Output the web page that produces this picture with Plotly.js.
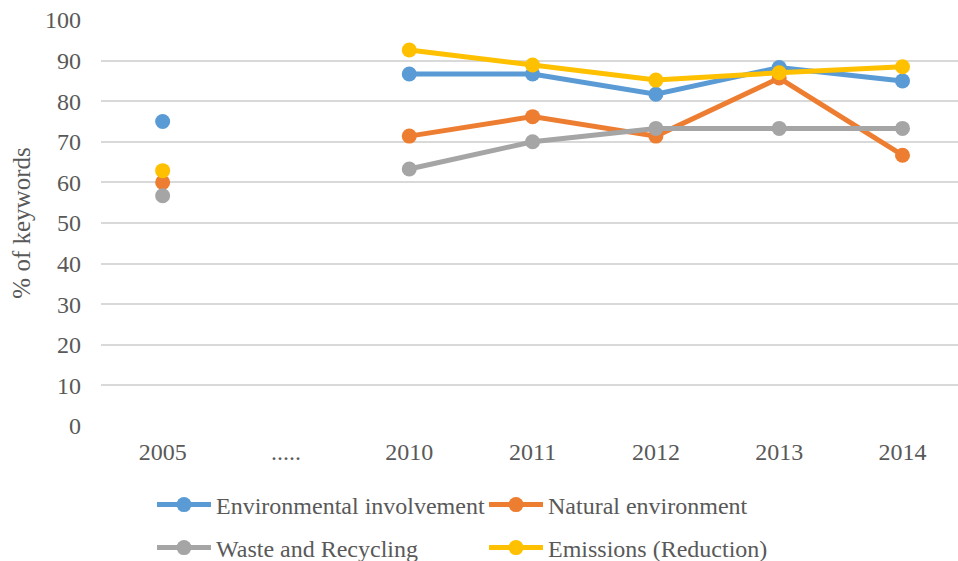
<!DOCTYPE html>
<html>
<head>
<meta charset="utf-8">
<script src="https://cdn.plot.ly/plotly-3.0.1.min.js"></script>
<style>html,body{margin:0;padding:0;background:#fff;}#chart{width:958px;height:561px;}</style>
</head>
<body>
<div id="chart"></div>
<script>
const categories = ['2005', '.....', '2010', '2011', '2012', '2013', '2014'];
const environmentalInvolvement = [75, null, 86.7, 86.7, 81.7, 88.3, 85];
const naturalEnvironment = [60, null, 71.4, 76.2, 71.4, 85.7, 66.7];
const wasteAndRecycling = [56.7, null, 63.3, 70, 73.3, 73.3, 73.3];
const emissionsReduction = [62.9, null, 92.6, 88.9, 85.2, 87, 88.5];
const seriesNames = ['Environmental involvement', 'Natural environment', 'Waste and Recycling', 'Emissions (Reduction)'];
const yTicks = [0, 10, 20, 30, 40, 50, 60, 70, 80, 90, 100];

const colors = ['#5b9bd5', '#ed7d31', '#a5a5a5', '#ffc000'];
const seriesData = [environmentalInvolvement, naturalEnvironment, wasteAndRecycling, emissionsReduction];
const legendIds = ['legend', 'legend', 'legend2', 'legend2'];
const font = 'Liberation Serif';

const traces = seriesData.map((vals, i) => ({
  type: 'scatter',
  mode: 'lines+markers',
  x: categories,
  y: vals,
  name: seriesNames[i],
  connectgaps: false,
  line: {color: colors[i], width: 5},
  marker: {color: colors[i], size: 15},
  legend: legendIds[i],
  cliponaxis: false
}));

const legendCommon = {
  orientation: 'h',
  xref: 'container', yref: 'container',
  x: 152 / 958, xanchor: 'left', yanchor: 'middle',
  font: {family: font, size: 24, color: '#595959'},
  entrywidth: 263, entrywidthmode: 'pixels',
  itemwidth: 54,
  bgcolor: 'rgba(0,0,0,0)',
  traceorder: 'normal'
};

const layout = {
  width: 958, height: 561,
  margin: {l: 101, r: 0, t: 20, b: 135},
  paper_bgcolor: '#ffffff', plot_bgcolor: '#ffffff',
  font: {family: font, size: 24, color: '#595959'},
  showlegend: true,
  legend: Object.assign({}, legendCommon, {y: 1 - 505 / 561}),
  legend2: Object.assign({}, legendCommon, {y: 1 - 548 / 561}),
  xaxis: {
    type: 'category',
    categoryorder: 'array', categoryarray: categories,
    range: [-0.5, 6.45],
    showgrid: false, zeroline: false,
    showline: false,
    ticks: '',
    ticklabelstandoff: 9,
    tickfont: {family: font, size: 24, color: '#595959'},
    fixedrange: true
  },
  yaxis: {
    range: [0, 100],
    tickvals: yTicks,
    ticktext: yTicks.map(String),
    showgrid: true, gridcolor: '#d9d9d9', gridwidth: 2,
    zeroline: false, showline: false, ticks: '',
    ticklabelstandoff: 19,
    tickfont: {family: font, size: 24, color: '#595959'},
    title: {text: '% of keywords', font: {family: font, size: 25, color: '#595959'}, standoff: 7},
    fixedrange: true
  }
};

Plotly.newPlot('chart', traces, layout, {displayModeBar: false, staticPlot: true});
</script>
</body>
</html>
